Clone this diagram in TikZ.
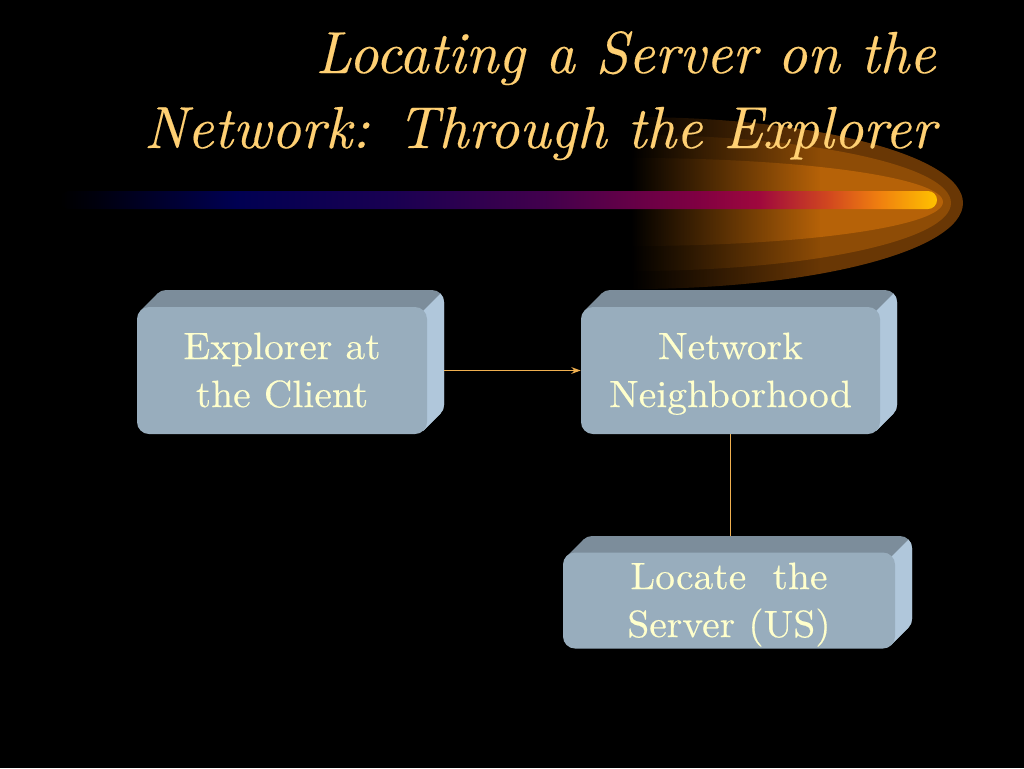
\documentclass[tikz,border=0pt]{standalone}
\usepackage{fontspec}
\newfontfamily\titlefont{lmroman10-italic.otf}[FakeBold=0.3,FakeStretch=0.975]
\newfontfamily\boxfont{lmroman10-regular.otf}[FakeStretch=1.04,FakeBold=0.3]
\usetikzlibrary{calc,arrows.meta,fadings}
\pgfdeclarelayer{back}
\pgfdeclarelayer{bg}
\pgfsetlayers{back,bg,main}
\definecolor{titlecol}{RGB}{255,208,115}
\definecolor{boxtext}{RGB}{255,255,204}
\definecolor{frontcol}{RGB}{152,173,189}
\definecolor{topcol}{RGB}{124,141,155}
\definecolor{sidecol}{RGB}{176,199,219}
\definecolor{linkcol}{RGB}{240,176,80}
\definecolor{glowA}{RGB}{105,55,5}
\definecolor{glowB}{RGB}{142,76,6}
\definecolor{glowC}{RGB}{182,98,8}
\pgfdeclarehorizontalshading{barshade}{100bp}{%
  rgb(0bp)=(0,0,0); rgb(25bp)=(0,0,0);
  rgb(27bp)=(0,0,0.05);
  rgb(35bp)=(0,0,0.32);
  rgb(44bp)=(0.1,0,0.32);
  rgb(52.7bp)=(0.26,0,0.3);
  rgb(61.3bp)=(0.5,0,0.26);
  rgb(64.8bp)=(0.62,0.03,0.24);
  rgb(68.8bp)=(0.82,0.28,0.12);
  rgb(71.7bp)=(0.94,0.5,0.06);
  rgb(75bp)=(1,0.76,0);
  rgb(100bp)=(1,0.76,0)}
\newcommand\bstrut{\rule[-8.6pt]{0pt}{36pt}}
\tikzset{
  box/.style={rectangle, rounded corners=9pt, fill=frontcol, text=boxtext,
    align=center, inner sep=0pt, font=\boxfont\fontsize{28.5}{36}\selectfont},
  link/.style={draw=linkcol, line width=1.3pt},
  titletext/.style={text=titlecol, inner sep=0pt, font=\titlefont\fontsize{44.5}{54}\selectfont}
}
% #1 name, #2 x1, #3 y1, #4 x2, #5 y2 (screen px), #6 text
\newcommand\pbox[6]{%
  \node[box, minimum width={(#4-#2)*0.75pt}, minimum height={(#5-#3)*0.75pt}] (#1) at ({(#2+#4)/2},{(#3+#5)/2}) {#6};
  \begin{pgfonlayer}{bg}
    \fill[topcol, rounded corners=9pt] (#2+17,#3-17) rectangle (#4+17,#5-17);
    \fill[topcol] (#2+3.5,#3+3.5) -- (#2+20.5,#3-13.5) -- (#4+13.5,#5-20.5) -- (#4-3.5,#5-3.5) -- cycle;
    \begin{scope}
      \clip (#4+60,#3-60) -- (#4-200,#3+200) -- (#4+60,#3+200) -- cycle;
      \fill[sidecol, rounded corners=9pt] (#2+17,#3-17) rectangle (#4+17,#5-17);
      \fill[sidecol] (#2+3.5,#3+3.5) -- (#2+20.5,#3-13.5) -- (#4+13.5,#5-20.5) -- (#4-3.5,#5-3.5) -- cycle;
    \end{scope}
  \end{pgfonlayer}}
\begin{document}
\begin{tikzpicture}[x=0.75pt,y=-0.75pt]
\useasboundingbox (0,0) rectangle (1024,768);
\begin{pgfonlayer}{back}
\fill[black] (0,0) rectangle (1024,768);
% glow
\begin{scope}
\clip (632,0) rectangle (1024,400);
\fill[glowA] (632,203) ellipse [x radius=331, y radius=86];
\fill[glowB] (632,203) ellipse [x radius=319, y radius=68];
\fill[glowC] (632,202) ellipse [x radius=311, y radius=44];
\fill[black, path fading=east] (631,100) rectangle (820,300);
\end{scope}
% bar
\shade[shading=barshade, rounded corners=6.75pt] (60,191) -- (937,191) -- (937,209) -- (60,209) -- cycle;
\end{pgfonlayer}

\node[titletext, anchor=base east] (t1) at (936,73) {Locating a Server on the};
\node[titletext, anchor=base east] (t2) at (936,148) {Network: Through the Explorer};

\pbox{a}{137}{307}{427}{434}{\bstrut Explorer at\\\bstrut the Client}
\pbox{b}{581}{307}{880}{434}{\bstrut Network\\\bstrut Neighborhood}
\pbox{c}{563}{553}{895}{648}{\bstrut Locate\ \ the\\\bstrut Server (US)}

\begin{pgfonlayer}{back}
\draw[link] (b.south) -- (b.south |- c.north);
\end{pgfonlayer}

\draw[link, -{Stealth[length=7pt,width=5pt]}] ($(a.east)+(17,0)$) -- (b.west);
\end{tikzpicture}
\end{document}
